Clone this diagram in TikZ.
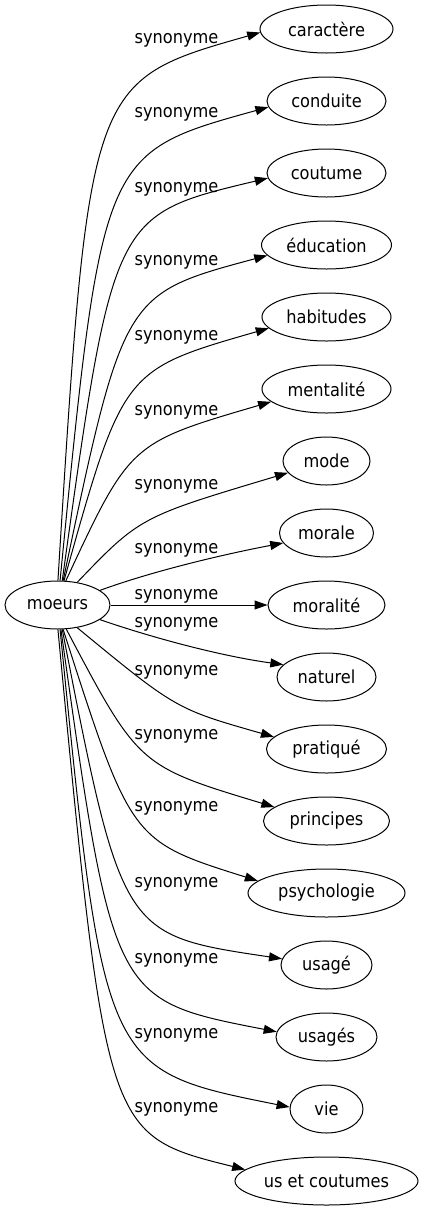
\documentclass[tikz,border=0pt]{standalone}
\usepackage{fontspec}
\setmainfont{DejaVu Sans}[FakeStretch=0.9]
\usetikzlibrary{arrows.meta,shapes.geometric}
\begin{document}
\begin{tikzpicture}[x=1pt,y=-1pt,
  every node/.style={font=\fontsize{18}{20}\selectfont},
  term/.style={draw, ellipse, line width=1pt, minimum height=48pt, inner sep=0pt},
  lab/.style={inner sep=0pt, yshift=-2pt},
  edge/.style={line width=1pt, -{Triangle[length=13pt,width=9pt]}}]
\useasboundingbox (0,0) rectangle (423,1211);
% nodes
\node[term, minimum width=105pt] (moeurs) at (57.5,605) {moeurs};
\node[term, minimum width=133pt] (caractere) at (326.5,29) {caractère};
\node[term, minimum width=119pt] (conduite) at (326.5,101) {conduite};
\node[term, minimum width=119pt] (coutume) at (326.5,173) {coutume};
\node[term, minimum width=130pt] (education) at (326.5,245) {éducation};
\node[term, minimum width=129pt] (habitudes) at (326.5,317) {habitudes};
\node[term, minimum width=129pt] (mentalite) at (326.5,389) {mentalité};
\node[term, minimum width=87pt] (mode) at (326.5,461) {mode};
\node[term, minimum width=94pt] (morale) at (326.5,533) {morale};
\node[term, minimum width=117pt] (moralite) at (326.5,605) {moralité};
\node[term, minimum width=99pt] (naturel) at (326.5,677) {naturel};
\node[term, minimum width=120pt] (pratique) at (326.5,749) {pratiqué};
\node[term, minimum width=126pt] (principes) at (326.5,821) {principes};
\node[term, minimum width=157pt] (psychologie) at (326.5,893) {psychologie};
\node[term, minimum width=91pt] (usage) at (326.5,965) {usagé};
\node[term, minimum width=101pt] (usages) at (326.5,1037) {usagés};
\node[term, minimum width=73pt] (vie) at (326.5,1109) {vie};
\node[term, minimum width=183pt] (uscoutumes) at (326.5,1181) {us et coutumes};
% edges
\draw[edge] (moeurs.89) .. controls (89,81) .. (caractere.183);
\draw[edge] (moeurs.84) .. controls (102,153) .. (conduite.186);
\draw[edge] (moeurs.79) .. controls (113,215) .. (coutume.185);
\draw[edge] (moeurs.77) .. controls (123.5,294) .. (education.190);
\draw[edge] (moeurs.75) .. controls (123,370) .. (habitudes.191);
\draw[edge] (moeurs.71) .. controls (130,443) .. (mentalite.193);
\draw[edge] (moeurs.49) .. controls (140,517) .. (mode.197);
\draw[edge] (moeurs.19) .. controls (150,572) and (220,555) .. (morale.193);
\draw[edge] (moeurs.0) -- (moralite.180);
\draw[edge] (moeurs.341) .. controls (150,637) and (220,656) .. (naturel.164);
\draw[edge] (moeurs.311) .. controls (176,709) .. (pratique.167);
\draw[edge] (moeurs.290) .. controls (138.6,766) .. (principes.165);
\draw[edge] (moeurs.283) .. controls (131,841) .. (psychologie.170);
\draw[edge] (moeurs.281) .. controls (122,935) .. (usage.172);
\draw[edge] (moeurs.278) .. controls (113,1000) .. (usages.174);
\draw[edge] (moeurs.276) .. controls (104,1070) .. (vie.177);
\draw[edge] (moeurs.271) .. controls (106,1135) .. (uscoutumes.172);
% labels
\node[lab] (l1) at (176.5,38) {synonyme};
\node[lab] (l2) at (176.5,112) {synonyme};
\node[lab] (l3) at (176.5,187) {synonyme};
\node[lab] (l4) at (176.5,260) {synonyme};
\node[lab] (l5) at (176.5,335) {synonyme};
\node[lab] (l6) at (176.5,410) {synonyme};
\node[lab] (l7) at (176.5,484) {synonyme};
\node[lab] (l8) at (176.5,548) {synonyme};
\node[lab] (l9) at (176.5,594) {synonyme};
\node[lab] (l10) at (176.5,622) {synonyme};
\node[lab] (l11) at (176.5,670) {synonyme};
\node[lab] (l12) at (176.5,734) {synonyme};
\node[lab] (l13) at (176.5,806) {synonyme};
\node[lab] (l14) at (176.5,882) {synonyme};
\node[lab] (l15) at (176.5,958) {synonyme};
\node[lab] (l16) at (176.5,1033) {synonyme};
\node[lab] (l17) at (176.5,1107) {synonyme};
\end{tikzpicture}
\end{document}
